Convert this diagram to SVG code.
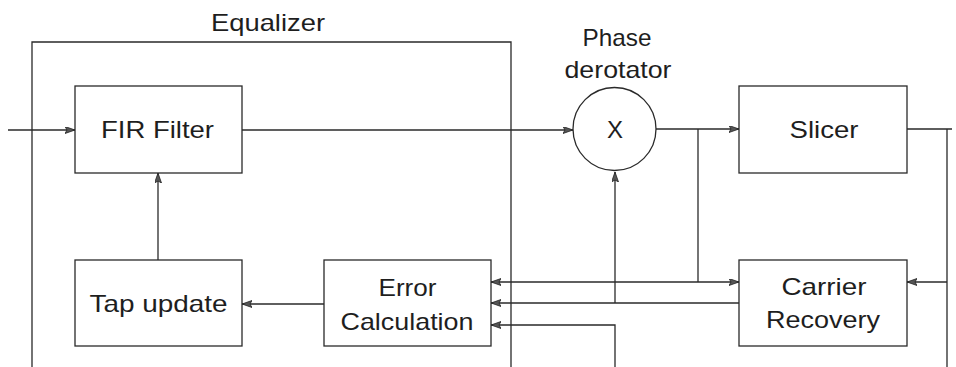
<svg xmlns="http://www.w3.org/2000/svg" width="956" height="367" viewBox="0 0 956 367">
<style>
  .box { fill: #fff; stroke: #2a2a2a; stroke-width: 1.3; }
  .ln { fill: none; stroke: #2a2a2a; stroke-width: 1.3; }
  .arr { marker-end: url(#ah); }
  .t { font-family: "Liberation Sans", Arial, sans-serif; font-size: 24px; fill: #1e1e1e; text-anchor: middle; }
</style>
<defs>
  <marker id="ah" markerUnits="userSpaceOnUse" markerWidth="11" markerHeight="8" refX="10" refY="3.5" orient="auto-start-reverse">
    <path d="M0,0 L10,3.5 L0,7 L2,3.5 z" fill="#555" stroke="#222" stroke-width="0.8"/>
  </marker>
</defs>
<rect width="956" height="367" fill="#fff"/>

<g id="equalizer">
  <path class="ln" d="M32,367 V42 H511 V367"/>
  <text class="t" x="268" y="31" textLength="114" lengthAdjust="spacingAndGlyphs">Equalizer</text>
</g>

<g id="connectors">
  <path class="ln arr" d="M8,130 H75"/>
  <path class="ln arr" d="M242,130 H573"/>
  <path class="ln arr" d="M656,129 H739"/>
  <path class="ln" d="M698,129 V282"/>
  <path class="ln arr" d="M698,282 H739"/>
  <path class="ln arr" d="M698,282 H491"/>
  <path class="ln arr" d="M739,303 H491"/>
  <path class="ln arr" d="M615,303 V172"/>
  <path class="ln arr" d="M615,367 V325 H491"/>
  <path class="ln" d="M907,129 H952 M947,129 V367"/>
  <path class="ln arr" d="M947,282 H907"/>
  <path class="ln arr" d="M324,304 H242"/>
  <path class="ln arr" d="M158,260 V173"/>
</g>

<g id="fir">
  <rect class="box" x="75" y="86" width="167" height="87"/>
  <text class="t" x="157.5" y="138" textLength="113" lengthAdjust="spacingAndGlyphs">FIR Filter</text>
</g>

<g id="derotator">
  <circle class="box" cx="614.5" cy="129" r="41.5"/>
  <text class="t" x="615" y="138">X</text>
  <text class="t" x="617" y="46" textLength="69" lengthAdjust="spacingAndGlyphs">Phase</text>
  <text class="t" x="618" y="78" textLength="107" lengthAdjust="spacingAndGlyphs">derotator</text>
</g>

<g id="slicer">
  <rect class="box" x="739" y="86" width="168" height="87"/>
  <text class="t" x="824" y="138" textLength="69" lengthAdjust="spacingAndGlyphs">Slicer</text>
</g>

<g id="tap-update">
  <rect class="box" x="75" y="260" width="167" height="86"/>
  <text class="t" x="158.5" y="312" textLength="138" lengthAdjust="spacingAndGlyphs">Tap update</text>
</g>

<g id="error-calculation">
  <rect class="box" x="324" y="260" width="167" height="86"/>
  <text class="t" x="407.5" y="296" textLength="58" lengthAdjust="spacingAndGlyphs">Error</text>
  <text class="t" x="407" y="330" textLength="133" lengthAdjust="spacingAndGlyphs">Calculation</text>
</g>

<g id="carrier-recovery">
  <rect class="box" x="739" y="260" width="168" height="86"/>
  <text class="t" x="824" y="295" textLength="85" lengthAdjust="spacingAndGlyphs">Carrier</text>
  <text class="t" x="823" y="328" textLength="114" lengthAdjust="spacingAndGlyphs">Recovery</text>
</g>
</svg>
